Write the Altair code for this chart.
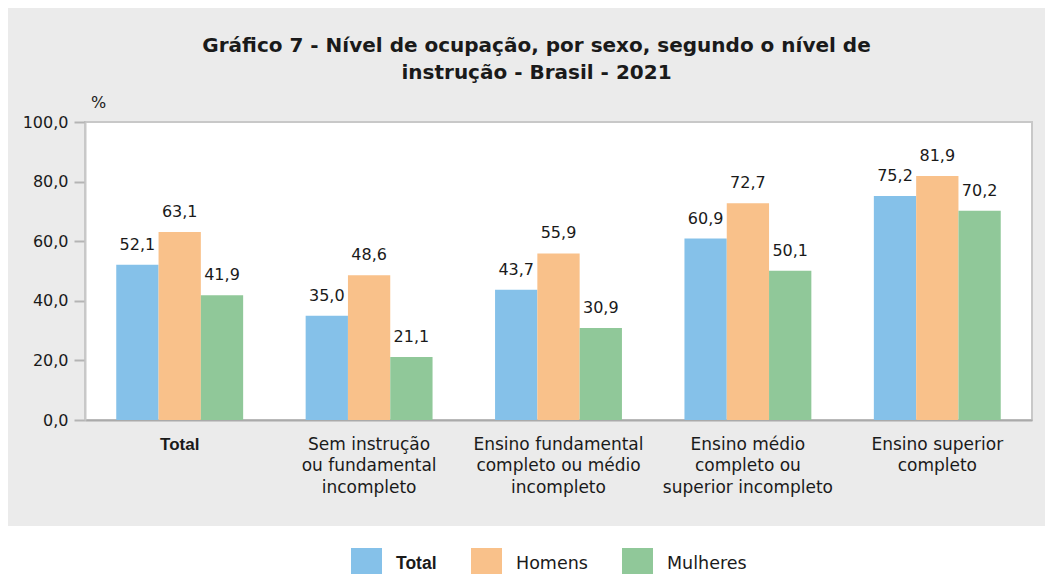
import json
import altair as alt
import pandas as pd

categories = [
    "Total",
    "Sem instrução ou fundamental incompleto",
    "Ensino fundamental completo ou médio incompleto",
    "Ensino médio completo ou superior incompleto",
    "Ensino superior completo",
]
category_lines = [
    ["Total"],
    ["Sem instrução", "ou fundamental", "incompleto"],
    ["Ensino fundamental", "completo ou médio", "incompleto"],
    ["Ensino médio", "completo ou", "superior incompleto"],
    ["Ensino superior", "completo"],
]
series = ["Total", "Homens", "Mulheres"]
total = [52.1, 35.0, 43.7, 60.9, 75.2]
homens = [63.1, 48.6, 55.9, 72.7, 81.9]
mulheres = [41.9, 21.1, 30.9, 50.1, 70.2]
colors = ["#85C1E9", "#F9C18A", "#90C899"]
y_ticks = [0, 20, 40, 60, 80, 100]
title_lines = [
    "Gráfico 7 - Nível de ocupação, por sexo, segundo o nível de",
    "instrução - Brasil - 2021",
]

rows = []
for s, vals in zip(series, [total, homens, mulheres]):
    for c, v in zip(categories, vals):
        rows.append({"categoria": c, "serie": s, "valor": v,
                     "rotulo": f"{v:.1f}".replace(".", ",")})
df = pd.DataFrame(rows)

label_map = json.dumps(dict(zip(categories, category_lines)), ensure_ascii=False)

FONT = "DejaVu Sans"
TXT = "#1a1a1a"

x_enc = alt.X(
    "categoria:N", sort=categories,
    scale=alt.Scale(paddingInner=0.33, paddingOuter=0.165),
    axis=alt.Axis(
        title=None, labelAngle=0, ticks=False, labelPadding=16,
        labelFontSize=17, labelLineHeight=21.5, labelColor=TXT,
        labelBaseline="top",
        labelExpr=label_map + "[datum.value]",
        labelFont={"condition": {"test": "datum.value == 'Total'", "value": "Liberation Sans"}, "value": FONT},
        labelFontWeight={"condition": {"test": "datum.value == 'Total'", "value": "bold"}, "value": "normal"},
        domainColor="#aaaaaa", domainWidth=2,
    ),
)
y_enc = alt.Y(
    "valor:Q",
    scale=alt.Scale(domain=[0, 100], nice=False),
    axis=alt.Axis(
        values=y_ticks, grid=False,
        labelExpr="replace(format(datum.value, '.1f'), '.', ',')",
        labelFont=FONT, labelFontSize=16, labelColor=TXT, labelPadding=6,
        tickColor="#b4b4b4", tickWidth=2, tickSize=11,
        domainColor="#c8c8c8", domainWidth=2,
        title="%", titleAngle=0, titleX=13, titleY=-20, titleFont=FONT,
        titleFontSize=16, titleFontWeight="normal", titleColor=TXT,
        titleAlign="center", titleBaseline="middle",
    ),
)
xoff = alt.XOffset("serie:N", sort=series, scale=alt.Scale(paddingInner=0, paddingOuter=0))

base = alt.Chart(df).encode(x=x_enc, xOffset=xoff, y=y_enc)

bars = base.mark_bar().encode(
    color=alt.Color(
        "serie:N", sort=series,
        scale=alt.Scale(domain=series, range=colors),
        legend=alt.Legend(
            title=None, orient="none", legendX=266, legendY=426,
            direction="horizontal", symbolType="square", symbolSize=961,
            symbolStrokeWidth=0, labelFontSize=17.5, labelOffset=14,
            columnPadding=34, padding=0, labelColor=TXT,
            labelFont={"expr": "datum.label == 'Total' ? 'Liberation Sans' : 'DejaVu Sans'"},
            labelFontWeight={"expr": "datum.label == 'Total' ? 'bold' : 'normal'"},
        ),
    )
)

texts = base.mark_text(dy=-15, baseline="alphabetic", font=FONT, fontSize=16, color=TXT).encode(
    text="rotulo:N"
)

white = alt.Chart(pd.DataFrame({"k": [0]})).mark_rect(color="white").encode(
    x=alt.value(-77), x2=alt.value(960), y=alt.value(404), y2=alt.value(464)
)

chart = alt.layer(white, bars, texts).properties(
    width=947, height=298,
    padding={"top": 28, "left": 0, "right": 0, "bottom": 0},
    background="#ebebeb",
    title=alt.TitleParams(
        text=title_lines, font=FONT, fontSize=20, fontWeight="bold",
        lineHeight=27, anchor="middle", frame="group", dx=-22, offset=11,
        color=TXT,
    ),
).configure_view(fill="white", stroke="#c8c8c8", strokeWidth=2)

chart.save("out.html", embed_options={"renderer": "svg", "actions": False})
